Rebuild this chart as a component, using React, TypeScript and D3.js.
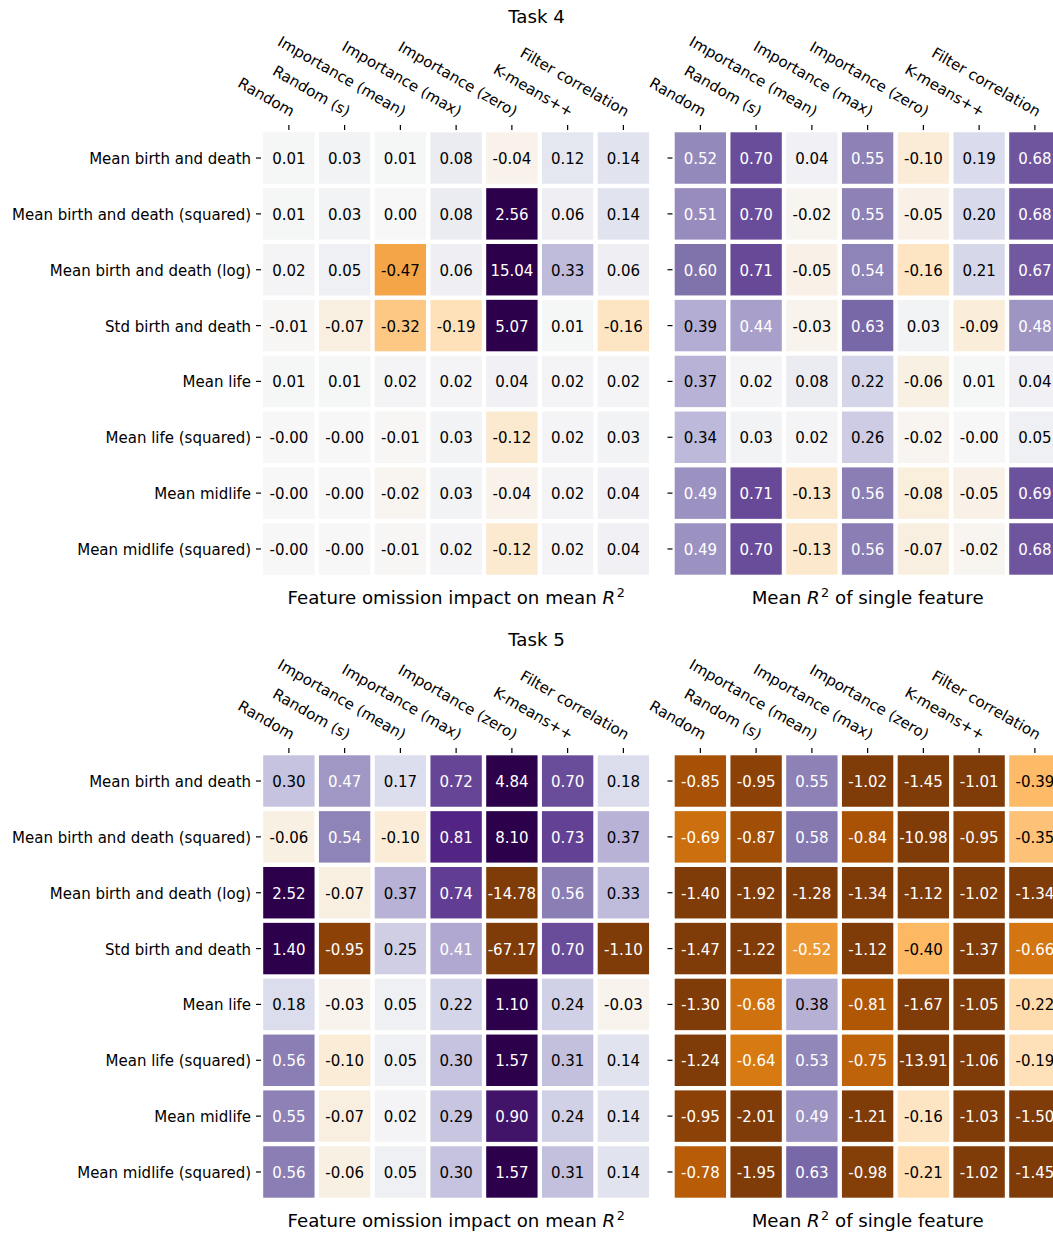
import React from "react";
import * as d3 from "d3";

// Feature-selection methods (columns) and candidate features (rows)
const methods = [
  "Random",
  "Random (s)",
  "Importance (mean)",
  "Importance (max)",
  "Importance (zero)",
  "K-means++",
  "Filter correlation",
];

const features = [
  "Mean birth and death",
  "Mean birth and death (squared)",
  "Mean birth and death (log)",
  "Std birth and death",
  "Mean life",
  "Mean life (squared)",
  "Mean midlife",
  "Mean midlife (squared)",
];

// Task 4: impact on mean R^2 when the feature is omitted
const task4Omission = [
  [0.01, 0.03, 0.01, 0.08, -0.04, 0.12, 0.14],
  [0.01, 0.03, 0.0, 0.08, 2.56, 0.06, 0.14],
  [0.02, 0.05, -0.47, 0.06, 15.04, 0.33, 0.06],
  [-0.01, -0.07, -0.32, -0.19, 5.07, 0.01, -0.16],
  [0.01, 0.01, 0.02, 0.02, 0.04, 0.02, 0.02],
  [-0.001, -0.001, -0.01, 0.03, -0.12, 0.02, 0.03],
  [-0.001, -0.001, -0.02, 0.03, -0.04, 0.02, 0.04],
  [-0.001, -0.001, -0.01, 0.02, -0.12, 0.02, 0.04],
];

// Task 4: mean R^2 using the feature alone
const task4Single = [
  [0.52, 0.7, 0.04, 0.55, -0.1, 0.19, 0.68],
  [0.51, 0.7, -0.02, 0.55, -0.05, 0.2, 0.68],
  [0.6, 0.71, -0.05, 0.54, -0.16, 0.21, 0.67],
  [0.39, 0.44, -0.03, 0.63, 0.03, -0.09, 0.48],
  [0.37, 0.02, 0.08, 0.22, -0.06, 0.01, 0.04],
  [0.34, 0.03, 0.02, 0.26, -0.02, -0.001, 0.05],
  [0.49, 0.71, -0.13, 0.56, -0.08, -0.05, 0.69],
  [0.49, 0.7, -0.13, 0.56, -0.07, -0.02, 0.68],
];

// Task 5: impact on mean R^2 when the feature is omitted
const task5Omission = [
  [0.3, 0.47, 0.17, 0.72, 4.84, 0.7, 0.18],
  [-0.06, 0.54, -0.1, 0.81, 8.1, 0.73, 0.37],
  [2.52, -0.07, 0.37, 0.74, -14.78, 0.56, 0.33],
  [1.4, -0.95, 0.25, 0.41, -67.17, 0.7, -1.1],
  [0.18, -0.03, 0.05, 0.22, 1.1, 0.24, -0.03],
  [0.56, -0.1, 0.05, 0.3, 1.57, 0.31, 0.14],
  [0.55, -0.07, 0.02, 0.29, 0.9, 0.24, 0.14],
  [0.56, -0.06, 0.05, 0.3, 1.57, 0.31, 0.14],
];

// Task 5: mean R^2 using the feature alone
const task5Single = [
  [-0.85, -0.95, 0.55, -1.02, -1.45, -1.01, -0.39],
  [-0.69, -0.87, 0.58, -0.84, -10.98, -0.95, -0.35],
  [-1.4, -1.92, -1.28, -1.34, -1.12, -1.02, -1.34],
  [-1.47, -1.22, -0.52, -1.12, -0.4, -1.37, -0.66],
  [-1.3, -0.68, 0.38, -0.81, -1.67, -1.05, -0.22],
  [-1.24, -0.64, 0.53, -0.75, -13.91, -1.06, -0.19],
  [-0.95, -2.01, 0.49, -1.21, -0.16, -1.03, -1.5],
  [-0.78, -1.95, 0.63, -0.98, -0.21, -1.02, -1.45],
];

const taskTitles = ["Task 4", "Task 5"];

// ColorBrewer PuOr (brown -> white -> purple), 11 stops
const puOrStops = [
  "#7f3b08", "#b35806", "#e08214", "#fdb863", "#fee0b6", "#f7f7f7",
  "#d8daeb", "#b2abd2", "#8073ac", "#542788", "#2d004b",
];

const FONT = "'DejaVu Sans', sans-serif";
const TICK_FS = 15;
const LABEL_FS = 18.2;
const WIDTH = 1053;
const HEIGHT = 1233;

const CELL_W = 55.75;
const CELL_H = 55.85;
const GAP = 4.4;
const TICK_LEN = 5;
const PAD = 4.9;
const TEXT_SHIFT = 1;

const leftX = 261;
const rightX = 672.5;
const taskTops = [130.1, 753.1];

const color = d3
  .scaleLinear<string>()
  .domain(d3.range(11).map((i) => -1 + i * 0.2))
  .range(puOrStops)
  .interpolate(d3.interpolateRgb)
  .clamp(true);

function luminance(c: string) {
  const { r, g, b } = d3.rgb(c);
  const lin = (v: number) => {
    const s = v / 255;
    return s <= 0.03928 ? s / 12.92 : Math.pow((s + 0.055) / 1.055, 2.4);
  };
  return 0.2126 * lin(r) + 0.7152 * lin(g) + 0.0722 * lin(b);
}

const fmt = (v: number) => v.toFixed(2);

type HeatmapProps = {
  x0: number;
  y0: number;
  data: number[][];
  showRowLabels: boolean;
  before: string;
  after: string;
};

function Heatmap({ x0, y0, data, showRowLabels, before, after }: HeatmapProps) {
  const x = d3
    .scaleBand<string>()
    .domain(methods)
    .range([x0, x0 + CELL_W * methods.length]);
  const y = d3
    .scaleBand<string>()
    .domain(features)
    .range([y0, y0 + CELL_H * features.length]);
  const bw = x.bandwidth();
  const bh = y.bandwidth();
  const bottom = y0 + CELL_H * features.length;
  const cx = (x0 + x0 + CELL_W * methods.length) / 2;

  return (
    <g>
      {/* cells */}
      {features.map((f, i) =>
        methods.map((m, j) => {
          const v = data[i][j];
          const fill = color(v);
          const txt = luminance(fill) < 0.43 ? "#ffffff" : "#000000";
          return (
            <g key={`${i}-${j}`}>
              <rect
                x={(x(m) as number) + GAP / 2}
                y={(y(f) as number) + GAP / 2}
                width={bw - GAP}
                height={bh - GAP}
                fill={fill}
              />
              <text
                x={(x(m) as number) + bw / 2}
                y={(y(f) as number) + bh / 2 + TEXT_SHIFT}
                textAnchor="middle"
                dominantBaseline="central"
                fontSize={TICK_FS}
                fill={txt}
              >
                {fmt(v)}
              </text>
            </g>
          );
        })
      )}
      {/* top ticks and rotated labels */}
      {methods.map((m) => {
        const xc = (x(m) as number) + bw / 2;
        return (
          <g key={m}>
            <line
              x1={xc}
              x2={xc}
              y1={y0 - TICK_LEN}
              y2={y0}
              stroke="#000"
              strokeWidth={1.2}
            />
            <text
              transform={`translate(${xc},${y0 - TICK_LEN - PAD}) rotate(30)`}
              y={-3.5}
              textAnchor="end"
              fontSize={TICK_FS}
              fill="#000"
            >
              {m}
            </text>
          </g>
        );
      })}
      {/* left ticks and row labels */}
      {features.map((f) => {
        const yc = (y(f) as number) + bh / 2;
        return (
          <g key={f}>
            <line
              x1={x0 - TICK_LEN}
              x2={x0}
              y1={yc}
              y2={yc}
              stroke="#000"
              strokeWidth={1.2}
            />
            {showRowLabels && (
              <text
                x={x0 - TICK_LEN - PAD}
                y={yc + TEXT_SHIFT}
                textAnchor="end"
                dominantBaseline="central"
                fontSize={TICK_FS}
                fill="#000"
              >
                {f}
              </text>
            )}
          </g>
        );
      })}
      {/* x axis label with italic R and superscript 2 */}
      <text
        x={cx}
        y={bottom + 26.6}
        textAnchor="middle"
        fontSize={LABEL_FS}
        fill="#000"
      >
        {before}
        <tspan fontStyle="italic">R</tspan>
        <tspan dx={1.5} dy={-7} fontSize={LABEL_FS * 0.7}>
          2
        </tspan>
        {after ? <tspan dy={7}>{after}</tspan> : null}
      </text>
    </g>
  );
}

const panels = [
  [task4Omission, task4Single],
  [task5Omission, task5Single],
];

export default function App() {
  return (
    <svg
      width={WIDTH}
      height={HEIGHT}
      viewBox={`0 0 ${WIDTH} ${HEIGHT}`}
      style={{ position: "absolute", left: 0, top: 0, display: "block", background: "#fff" }}
      fontFamily={FONT}
    >
      <rect x={0} y={0} width={WIDTH} height={HEIGHT} fill="#fff" />
      {taskTitles.map((title, k) => {
        const top = taskTops[k];
        const [omission, single] = panels[k];
        return (
          <g key={title}>
            <text
              x={536.5}
              y={top - 107}
              textAnchor="middle"
              fontSize={LABEL_FS}
              fill="#000"
            >
              {title}
            </text>
            <Heatmap
              x0={leftX}
              y0={top}
              data={omission}
              showRowLabels={true}
              before="Feature omission impact on mean "
              after=""
            />
            <Heatmap
              x0={rightX}
              y0={top}
              data={single}
              showRowLabels={false}
              before="Mean "
              after=" of single feature"
            />
          </g>
        );
      })}
    </svg>
  );
}
